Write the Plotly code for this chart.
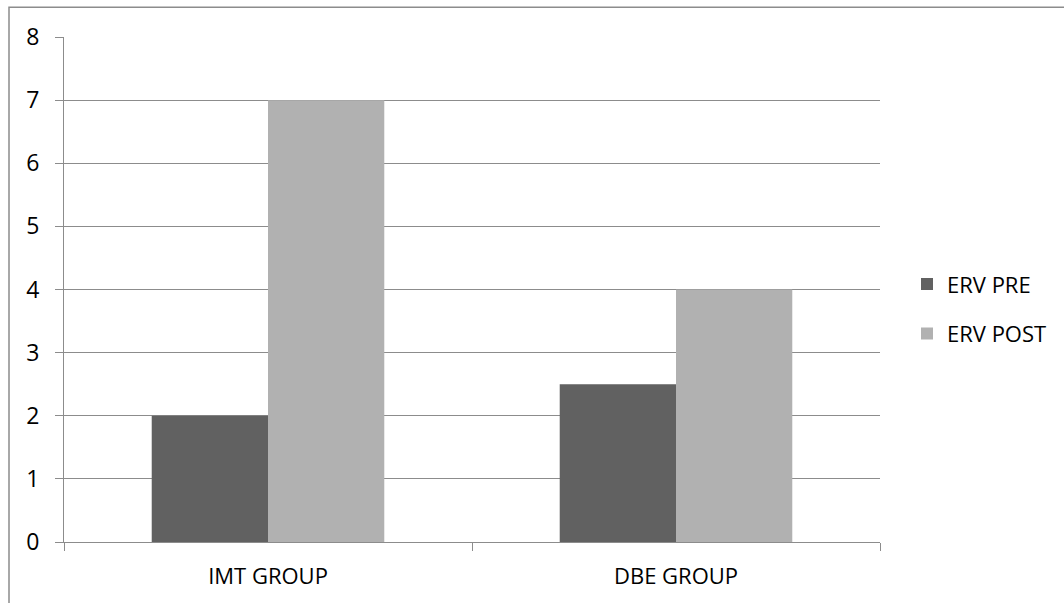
import plotly.graph_objects as go

categories = ["IMT GROUP", "DBE GROUP"]
erv_pre = [2, 2.5]
erv_post = [7, 4]
y_ticks = [0, 1, 2, 3, 4, 5, 6, 7, 8]

FONT = "Open Sans"
GRID = "#8c8c8c"

fig = go.Figure()
fig.add_trace(go.Bar(name="ERV PRE", x=categories, y=erv_pre,
                     marker=dict(color="#616161", line=dict(width=0)),
                     legendgroup="pre"))
fig.add_trace(go.Bar(name="ERV POST", x=categories, y=erv_post,
                     marker=dict(color="#b1b1b1", line=dict(width=0)),
                     legendgroup="post"))

fig.update_layout(
    width=1064, height=603,
    margin=dict(l=64, r=184, t=37, b=61),
    paper_bgcolor="white", plot_bgcolor="white",
    barmode="group", bargap=0.43, bargroupgap=0,
    font=dict(family=FONT, size=22, color="#000000"),
    showlegend=True,
    legend=dict(x=(907 - 64) / 816, y=0.461, xanchor="left", yanchor="middle",
                traceorder="grouped", tracegroupgap=18,
                font=dict(family=FONT, size=22, color="#000000"),
                bgcolor="rgba(0,0,0,0)", itemwidth=30),
    xaxis=dict(type="category", showgrid=False, showline=True, linecolor=GRID,
               linewidth=1, ticks="outside", tickson="boundaries", ticklen=8,
               tickcolor=GRID, tickfont=dict(size=22), range=[-0.5, 1.5],
               ticklabelstandoff=15),
    yaxis=dict(range=[0, 8], tickvals=y_ticks, showgrid=True, gridcolor=GRID,
               gridwidth=1, showline=True, linecolor=GRID, linewidth=1,
               ticks="outside", ticklen=8, tickcolor=GRID,
               tickfont=dict(size=23), zeroline=False, ticklabelstandoff=11),
    # outer chart frame, open past the right and bottom edges
    shapes=[dict(type="rect", xref="paper", yref="paper",
                 x0=(9 - 64) / 816, x1=1.4, y0=-0.3, y1=1 + (37 - 7.3) / 505,
                 line=dict(color="#8c8c8c", width=1.5), layer="below")],
)

fig.write_html("out.html")
